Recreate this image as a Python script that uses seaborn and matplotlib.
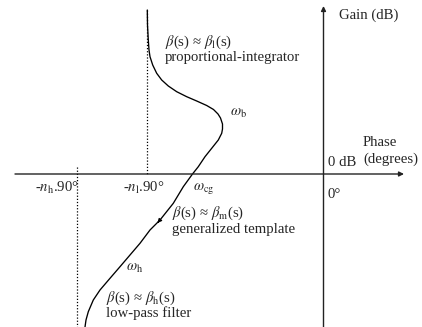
import matplotlib
matplotlib.use("Agg")
import matplotlib.pyplot as plt
import seaborn as sns
import pandas as pd

# Nichols-like curve (phase position, gain position)
curve_x = [147.3, 147.5, 148.3, 149.0, 150.0, 152.7, 156.7, 161.7, 168.3, 176.7,
           186.7, 196.7, 206.7, 213.5, 218.0, 220.5, 222.5, 222.5, 221.7, 218.3,
           211.7, 205.0, 198.3, 192.5, 183.3, 173.3, 160.0, 150.0, 140.0, 130.0,
           120.0, 110.0, 100.0, 93.3, 88.3, 86.0, 85.0]
curve_y = [10.0, 25.0, 40.0, 50.0, 56.7, 65.0, 73.3, 80.0, 86.0, 91.7,
           96.7, 101.0, 105.5, 109.5, 114.0, 118.0, 124.0, 129.0, 133.3, 140.0,
           148.3, 156.7, 166.7, 174.0, 186.7, 203.3, 220.0, 230.0, 243.3, 255.0,
           266.7, 278.3, 290.0, 300.0, 311.7, 320.0, 327.0]

asymptote_labels = [r"-$n_{\rm h}$.90°", r"-$n_{\rm l}$.90°"]
region_titles = [r"$\beta$(s) ≈ $\beta_{\rm l}$(s)", r"$\beta$(s) ≈ $\beta_{\rm m}$(s)",
                 r"$\beta$(s) ≈ $\beta_{\rm h}$(s)"]
region_names = ["proportional-integrator", "generalized template", "low-pass filter"]
freq_labels = [r"$\omega_{\rm b}$", r"$\omega_{\rm cg}$", r"$\omega_{\rm h}$"]

sns.set_theme(style="white")
plt.rcParams["font.family"] = ["Liberation Serif", "DejaVu Serif"]
plt.rcParams["mathtext.fontset"] = "stix"

fig = plt.figure(figsize=(4.22, 3.27), dpi=100)
ax = fig.add_axes([0, 0, 1, 1])
ax.set_xlim(0, 422)
ax.set_ylim(327, 0)
ax.axis("off")

df = pd.DataFrame({"x": curve_x, "y": curve_y})
sns.lineplot(data=df, x="x", y="y", sort=False, estimator=None, color="black",
             linewidth=0.95, ax=ax)

# direction arrow on the curve
ax.annotate("", xy=(curve_x[26] - 2.5, curve_y[26] + 3), xytext=(curve_x[26], curve_y[26]),
            arrowprops=dict(arrowstyle="-|>", color="black", lw=0.8,
                            mutation_scale=6))

# axes
axc = "#222222"
ax.annotate("", xy=(404, 174), xytext=(15, 174),
            arrowprops=dict(arrowstyle="-|>", color=axc, lw=1.0, mutation_scale=7,
                            shrinkA=0, shrinkB=0))
ax.annotate("", xy=(323.5, 6), xytext=(323.5, 327),
            arrowprops=dict(arrowstyle="-|>", color=axc, lw=1.0, mutation_scale=7,
                            shrinkA=0, shrinkB=0))

# asymptotes
ax.plot([147, 147], [10, 174], color="black", lw=0.9, ls=(0, (1, 1.5)))
ax.plot([77, 77], [167, 327], color="black", lw=0.9, ls=(0, (1, 1.5)))

fs = 10.6
ax.text(339, 15, "Gain (dB)", fontsize=fs, va="center", ha="left")
ax.text(363, 143, "Phase", fontsize=fs, va="center", ha="left")
ax.text(363, 159, "(degrees)", fontsize=fs, va="center", ha="left")
ax.text(328, 163, "0 dB", fontsize=fs, va="center", ha="left")
ax.text(328, 195, "0°", fontsize=fs, va="center", ha="left")

ax.text(35, 188, asymptote_labels[0], fontsize=fs, va="center", ha="left")
ax.text(123, 188, asymptote_labels[1], fontsize=fs, va="center", ha="left")

ax.text(230, 113, freq_labels[0], fontsize=fs, va="center", ha="left")
ax.text(193, 188, freq_labels[1], fontsize=fs, va="center", ha="left")
ax.text(126, 268, freq_labels[2], fontsize=fs, va="center", ha="left")

ax.text(165, 42.5, region_titles[0], fontsize=fs, va="center", ha="left")
ax.text(165, 58, region_names[0], fontsize=fs, va="center", ha="left")
ax.text(172, 213, region_titles[1], fontsize=fs, va="center", ha="left")
ax.text(172, 230, region_names[1], fontsize=fs, va="center", ha="left")
ax.text(106, 298, region_titles[2], fontsize=fs, va="center", ha="left")
ax.text(106, 313, region_names[2], fontsize=fs, va="center", ha="left")

fig.savefig("out.png", dpi=100, facecolor="white")
